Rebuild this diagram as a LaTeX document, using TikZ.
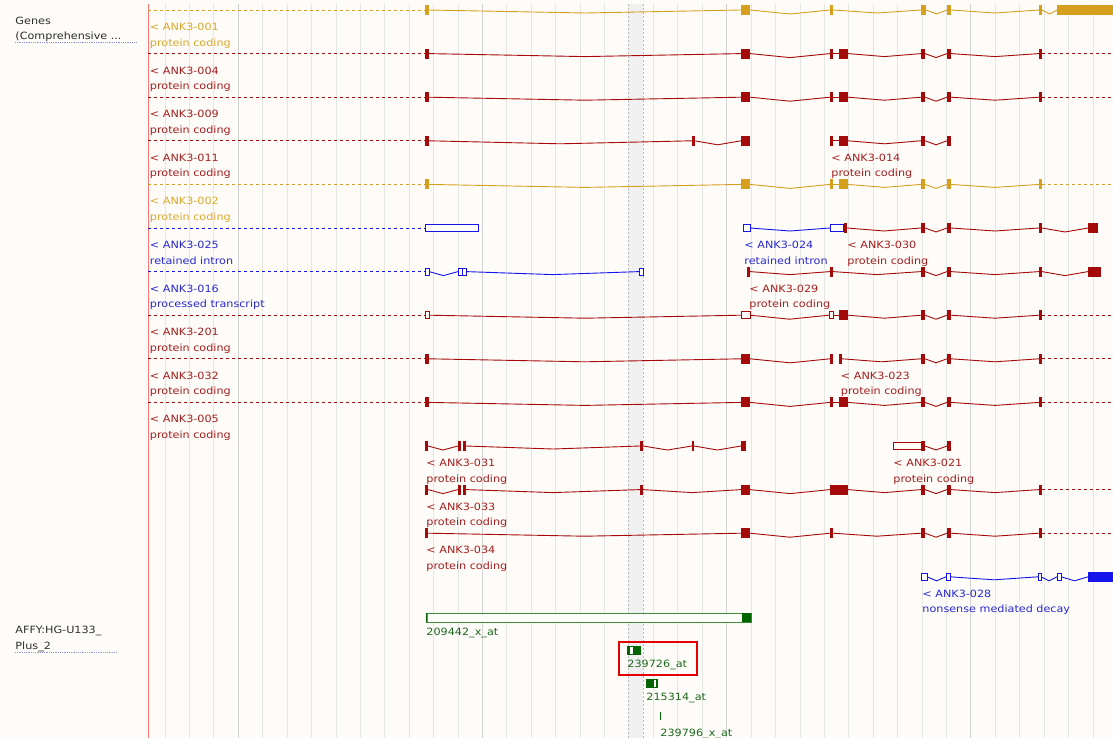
\documentclass[tikz,border=0pt]{standalone}
\usepackage{fontspec}
\setmainfont[FakeStretch=1.12]{DejaVu Sans}
\definecolor{bg}{RGB}{253,252,248}
\definecolor{ensgold}{RGB}{214,160,30}
\definecolor{goldtxt}{RGB}{218,168,45}
\definecolor{ensred}{RGB}{165,10,10}
\definecolor{redtxt}{RGB}{165,30,30}
\definecolor{ensblue}{RGB}{20,20,235}
\definecolor{bluetxt}{RGB}{40,40,210}
\definecolor{ensgreen}{RGB}{0,100,0}
\definecolor{greentxt}{RGB}{30,105,30}
\definecolor{gridgray}{RGB}{230,230,227}
\definecolor{trackgray}{RGB}{45,45,45}
\newcommand{\exon}[3]{\fill (#1,#3-5) rectangle (#2,#3+5);}
\newcommand{\utrbox}[3]{\draw[fill=bg] (#1,#3-3.5) rectangle (#2,#3+3.5);}
\newcommand{\intron}[4][3]{\draw (#2,#4) -- ({(#2+#3)/2},{#4+#1}) -- (#3,#4);}
\newcommand{\flank}[3]{\draw[dash pattern=on 3pt off 3pt] (#1,#3) -- (#2,#3);}

\begin{document}
\begin{tikzpicture}[x=1pt,y=-1pt,line width=0.9pt,
  lbl/.style={anchor=north west,inner sep=0pt,align=left,font=\fontsize{10}{15.5}\selectfont},
  plbl/.style={anchor=base west,inner sep=0pt,font=\fontsize{10}{12}\selectfont,text=greentxt},
  tlbl/.style={anchor=base west,inner sep=0pt,font=\fontsize{10}{12}\selectfont,text=trackgray}]
\useasboundingbox (0,0) rectangle (1113,738);
\fill[bg] (0,0) rectangle (1113,738);
% grid
\foreach \k in {0,...,38}
  \draw[gridgray,line width=0.8pt] ({165+24.42*\k},4) -- ({165+24.42*\k},738);
\foreach \k in {3,13,23,33}
  \draw[gray!35,line width=0.8pt] ({165+24.42*\k},4) -- ({165+24.42*\k},738);
\fill[gray!12] (628,4) rectangle (643,738);
\draw[gray!55,line width=0.6pt,dash pattern=on 2pt off 2pt] (628,4) -- (628,738) (643,4) -- (643,738);
\draw[red!55,line width=0.9pt] (148.3,4) -- (148.3,738);
% track names
\node[tlbl] (genes) at (15,24.5) {Genes};
\node[tlbl] (compr) at (15,40) {(Comprehensive ...};
\draw[bluetxt!50,dash pattern=on 0.8pt off 1pt] (15,42.5) -- (137,42.5);
\node[tlbl] (affy) at (15,633) {AFFY:HG-U133\_};
\node[tlbl] (plus) at (15,649) {Plus\_2};
\draw[bluetxt!50,dash pattern=on 0.8pt off 1pt] (15,652) -- (117,652);
%-------------
\begin{scope}[color=ensgold]
\flank{148}{425}{10}
\exon{425}{428.5}{10}
\intron{428.5}{741}{10}
\exon{741}{750}{10}
\intron[4]{750}{830}{10}
\exon{830}{833}{10}
\intron{833}{921}{10}
\exon{921}{926}{10}
\intron[4]{926}{947}{10}
\exon{947}{951}{10}
\intron{951}{1039}{10}
\exon{1039}{1042}{10}
\intron[4]{1042}{1057}{10}
\exon{1057}{1113}{10}
\end{scope}
\foreach \y/\c in {53.6/ensred,97.2/ensred,184.4/ensgold,402.4/ensred}{
  \begin{scope}[color=\c]
  \flank{148}{425}{\y}
  \exon{425}{428.5}{\y}
  \intron{428.5}{741}{\y}
  \exon{741}{750}{\y}
  \intron[4]{750}{830}{\y}
  \exon{830}{833}{\y}
  \draw (833,\y) -- (839,\y);
  \exon{839}{848}{\y}
  \intron{848}{921}{\y}
  \exon{921}{925}{\y}
  \intron[4]{925}{947}{\y}
  \exon{947}{951}{\y}
  \intron{951}{1039}{\y}
  \exon{1039}{1042}{\y}
  \flank{1042}{1113}{\y}
  \end{scope}
}
%-------------
\begin{scope}[color=ensred]
% ANK3-011, ANK3-014
\flank{148}{425}{140.8}
\exon{425}{428.5}{140.8}
\intron{428.5}{692}{140.8}
\exon{692}{694.5}{140.8}
\intron[4]{694.5}{741}{140.8}
\exon{741}{750}{140.8}
\exon{830}{833}{140.8}
\draw (833,140.8) -- (839,140.8);
\exon{839}{848}{140.8}
\intron{848}{921}{140.8}
\exon{921}{925}{140.8}
\intron[4]{925}{947}{140.8}
\exon{947}{951}{140.8}
% ANK3-030
\exon{844}{847}{228}
\intron{847}{921}{228}
\exon{921}{925}{228}
\intron[4]{925}{947}{228}
\exon{947}{951}{228}
\intron{951}{1039}{228}
\exon{1039}{1042}{228}
\intron[4]{1042}{1088}{228}
\exon{1088}{1098}{228}
% ANK3-029
\exon{747}{750}{271.6}
\intron{750}{830}{271.6}
\exon{830}{833}{271.6}
\intron{833}{921}{271.6}
\exon{921}{925}{271.6}
\intron[4]{925}{947}{271.6}
\exon{947}{951}{271.6}
\intron{951}{1039}{271.6}
\exon{1039}{1042}{271.6}
\intron[4]{1042}{1088}{271.6}
\exon{1088}{1101}{271.6}
% ANK3-201
\flank{148}{425}{315.2}
\utrbox{425}{429}{315.2}
\intron{429}{741}{315.2}
\utrbox{741}{750}{315.2}
\intron[4]{750}{829}{315.2}
\utrbox{829}{833}{315.2}
\draw (833,315.2) -- (839,315.2);
\exon{839}{848}{315.2}
\intron{848}{921}{315.2}
\exon{921}{925}{315.2}
\intron[4]{925}{947}{315.2}
\exon{947}{951}{315.2}
\intron{951}{1039}{315.2}
\exon{1039}{1042}{315.2}
\flank{1042}{1113}{315.2}
% ANK3-032, ANK3-023
\flank{148}{425}{358.8}
\exon{425}{428.5}{358.8}
\intron{428.5}{741}{358.8}
\exon{741}{750}{358.8}
\intron[4]{750}{830}{358.8}
\exon{830}{833}{358.8}
\exon{839}{842}{358.8}
\intron{842}{921}{358.8}
\exon{921}{925}{358.8}
\intron[4]{925}{947}{358.8}
\exon{947}{951}{358.8}
\intron{951}{1039}{358.8}
\exon{1039}{1042}{358.8}
\flank{1042}{1113}{358.8}
% ANK3-031, ANK3-021
\exon{425}{428}{446}
\intron[4]{428}{458}{446}
\exon{458}{461}{446}
\exon{462.5}{466}{446}
\intron{466}{640}{446}
\exon{640}{643}{446}
\intron[4]{643}{692}{446}
\exon{692}{694}{446}
\intron[4]{694}{741}{446}
\exon{741}{746}{446}
\utrbox{893}{921}{446}
\exon{921}{925}{446}
\intron[4]{925}{947}{446}
\exon{947}{951}{446}
% ANK3-033
\exon{425}{428}{489.6}
\intron[4]{428}{458}{489.6}
\exon{458}{461}{489.6}
\exon{462.5}{466}{489.6}
\intron{466}{640}{489.6}
\exon{640}{643}{489.6}
\intron{643}{741}{489.6}
\exon{741}{750}{489.6}
\intron[4]{750}{830}{489.6}
\exon{830}{848}{489.6}
\intron{848}{921}{489.6}
\exon{921}{925}{489.6}
\intron[4]{925}{947}{489.6}
\exon{947}{951}{489.6}
\intron{951}{1039}{489.6}
\exon{1039}{1042}{489.6}
\flank{1042}{1113}{489.6}
% ANK3-034
\exon{425}{428}{533.2}
\intron{428}{741}{533.2}
\exon{741}{750}{533.2}
\intron[4]{750}{830}{533.2}
\exon{830}{833}{533.2}
\intron{833}{921}{533.2}
\exon{921}{925}{533.2}
\intron[4]{925}{947}{533.2}
\exon{947}{951}{533.2}
\intron{951}{1039}{533.2}
\exon{1039}{1042}{533.2}
\flank{1042}{1113}{533.2}
\end{scope}
%-------------
\begin{scope}[color=ensblue]
% ANK3-025, ANK3-024
\flank{148}{425}{228}
\utrbox{425}{478}{228}
\utrbox{743}{750}{228}
\intron{750}{830}{228}
\utrbox{830}{843}{228}
% ANK3-016
\flank{148}{425}{271.6}
\utrbox{425}{429}{271.6}
\intron[4]{429}{458}{271.6}
\utrbox{458}{462}{271.6}
\utrbox{462}{466}{271.6}
\intron{466}{639}{271.6}
\utrbox{639}{643}{271.6}
% ANK3-028
\utrbox{921.5}{927}{576.8}
\intron[4]{927}{946}{576.8}
\utrbox{946}{950}{576.8}
\intron{950}{1038}{576.8}
\utrbox{1038}{1041}{576.8}
\intron[4]{1041}{1057}{576.8}
\utrbox{1057}{1061}{576.8}
\intron[4]{1061}{1088}{576.8}
\exon{1088}{1113}{576.8}
\end{scope}
%-------------
\node[lbl,text=goldtxt] (a001) at (149.5,22.7) {< ANK3-001\\protein coding};
\node[lbl,text=redtxt] (a004) at (149.5,66.3) {< ANK3-004\\protein coding};
\node[lbl,text=redtxt] (a009) at (149.5,109.9) {< ANK3-009\\protein coding};
\node[lbl,text=redtxt] (a011) at (149.5,153.5) {< ANK3-011\\protein coding};
\node[lbl,text=redtxt] (a014) at (831,153.5) {< ANK3-014\\protein coding};
\node[lbl,text=goldtxt] (a002) at (149.5,197.1) {< ANK3-002\\protein coding};
\node[lbl,text=bluetxt] (a025) at (149.5,240.7) {< ANK3-025\\retained intron};
\node[lbl,text=bluetxt] (a024) at (744,240.7) {< ANK3-024\\retained intron};
\node[lbl,text=redtxt] (a030) at (847,240.7) {< ANK3-030\\protein coding};
\node[lbl,text=bluetxt] (a016) at (149.5,284.3) {< ANK3-016\\processed transcript};
\node[lbl,text=redtxt] (a029) at (749,284.3) {< ANK3-029\\protein coding};
\node[lbl,text=redtxt] (a201) at (149.5,327.9) {< ANK3-201\\protein coding};
\node[lbl,text=redtxt] (a032) at (149.5,371.5) {< ANK3-032\\protein coding};
\node[lbl,text=redtxt] (a023) at (840.5,371.5) {< ANK3-023\\protein coding};
\node[lbl,text=redtxt] (a005) at (149.5,415.1) {< ANK3-005\\protein coding};
\node[lbl,text=redtxt] (a031) at (426,458.7) {< ANK3-031\\protein coding};
\node[lbl,text=redtxt] (a021) at (893,458.7) {< ANK3-021\\protein coding};
\node[lbl,text=redtxt] (a033) at (426,502.3) {< ANK3-033\\protein coding};
\node[lbl,text=redtxt] (a034) at (426,545.9) {< ANK3-034\\protein coding};
\node[lbl,text=bluetxt] (a028) at (922,589.5) {< ANK3-028\\nonsense mediated decay};
%-------------
\draw[ensgreen!75,line width=0.8pt,fill=bg] (426,613) rectangle (751,622);
\fill[ensgreen] (426,613) rectangle (427.5,622) (742,613) rectangle (751,622);
\node[plbl] (p209442) at (426,635.6) {209442\_x\_at};
\fill[ensgreen] (627,646) rectangle (641,655);
\fill[white] (630,647.2) rectangle (632.5,653.8);
\node[plbl] (p239726) at (627,667) {239726\_at};
\draw[red!90!black,line width=2pt] (619,642) rectangle (697,675);
\fill[ensgreen] (646,679) rectangle (658,688);
\fill[white] (654,680.2) rectangle (656,686.8);
\node[plbl] (p215314) at (646,700.6) {215314\_at};
\draw[ensgreen,line width=0.8pt] (660,712) -- (660,720);
\node[plbl] (p239796) at (660,736.2) {239796\_x\_at};
\end{tikzpicture}
\end{document}
